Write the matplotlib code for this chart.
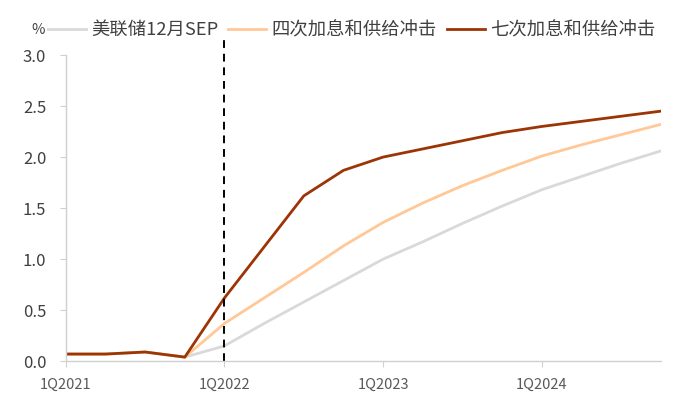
import matplotlib
matplotlib.use('Agg')
import matplotlib.pyplot as plt

plt.rcParams['font.family'] = ['Noto Sans CJK SC', 'DejaVu Sans']

# quarterly points, 1Q2021 .. 4Q2024
quarters = list(range(16))
tick_pos = [0, 4, 8, 12]
tick_labels = ['1Q2021', '1Q2022', '1Q2023', '1Q2024']

sep_dec = [0.07, 0.07, 0.09, 0.04, 0.15, 0.37, 0.58, 0.79,
           1.00, 1.17, 1.35, 1.52, 1.68, 1.81, 1.94, 2.06]
four_hikes = [0.07, 0.07, 0.09, 0.04, 0.37, 0.62, 0.87, 1.13,
              1.36, 1.55, 1.72, 1.87, 2.01, 2.12, 2.22, 2.32]
seven_hikes = [0.07, 0.07, 0.09, 0.04, 0.62, 1.12, 1.62, 1.87,
               2.00, 2.08, 2.16, 2.24, 2.30, 2.35, 2.40, 2.45]

names = ['美联储12月SEP', '四次加息和供给冲击', '七次加息和供给冲击']
colors = ['#d9d9d9', '#ffc896', '#9c3405']

fig = plt.figure(figsize=(7, 4.2), dpi=100)
ax = fig.add_axes([0.094, 0.140, 0.850, 0.729])

for vals, name, c in zip([sep_dec, four_hikes, seven_hikes], names, colors):
    ax.plot(quarters, vals, color=c, lw=2.0, label=name)

# dashed marker at 1Q2022, runs up past the top of the axes
ax.axvline(4, ymin=0, ymax=1.056, color='black', lw=1.4, ls=(0, (4, 3)), clip_on=False)

ax.set_xlim(0, 15)
ax.set_ylim(0, 3.0)
ax.set_yticks([0, 0.5, 1.0, 1.5, 2.0, 2.5, 3.0])
ax.set_yticklabels(['0.0', '0.5', '1.0', '1.5', '2.0', '2.5', '3.0'])
ax.set_xticks(tick_pos)
ax.set_xticklabels(tick_labels)

for s in ['top', 'right']:
    ax.spines[s].set_visible(False)
for s in ['left', 'bottom']:
    ax.spines[s].set_color('#d0d0d0')
    ax.spines[s].set_linewidth(1.0)

ax.tick_params(axis='y', colors='#d0d0d0', labelcolor='#404040', labelsize=12, length=4, pad=10)
ax.tick_params(axis='x', colors='#d0d0d0', labelcolor='#595959', labelsize=10.5, length=4, pad=8)

fig.text(0.054, 0.928, '%', fontsize=10.5, color='#404040', ha='center', va='center')

ax.legend(loc='center left', bbox_to_anchor=(0.0686, 0.928), bbox_transform=fig.transFigure,
          ncol=3, frameon=False, fontsize=13.2, labelcolor='#404040', borderpad=0,
          handlelength=2.05, handletextpad=0.3, columnspacing=0.55, borderaxespad=0)

fig.savefig('out.png', dpi=100)
